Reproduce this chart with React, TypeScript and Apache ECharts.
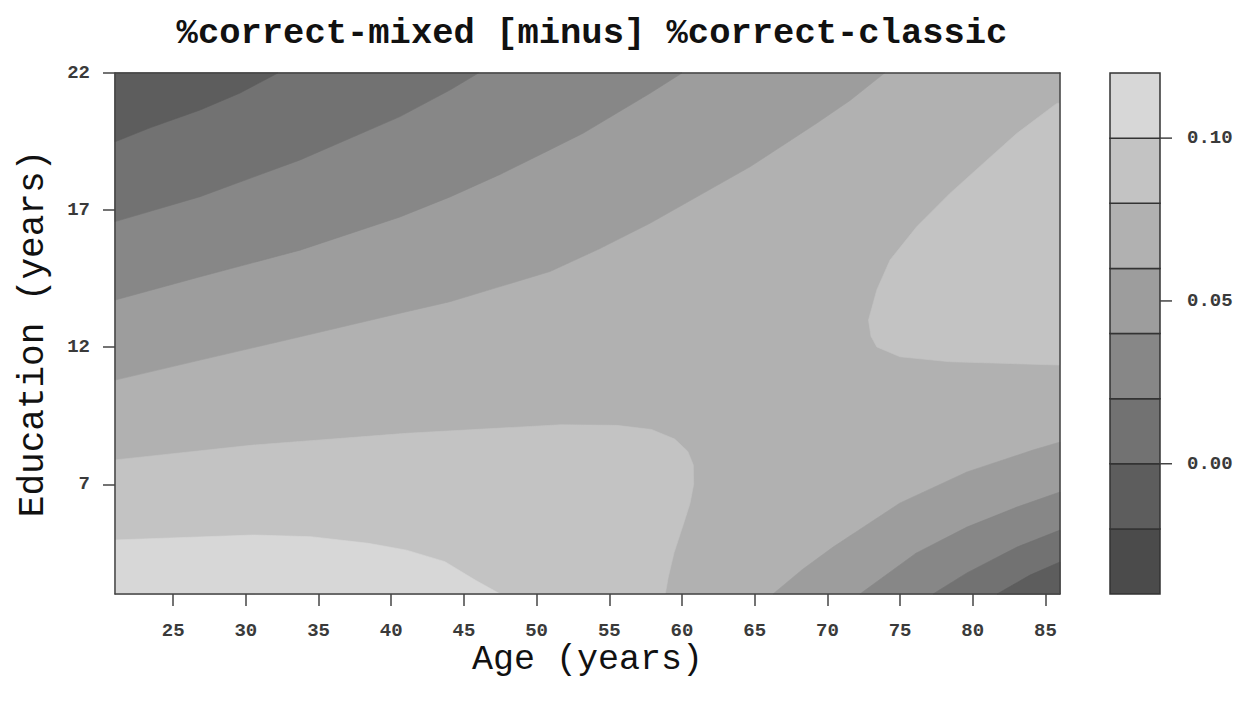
import React, { useEffect, useRef } from "react";
import * as echarts from "echarts";

// ---------- axes ----------
const ageRange = [21, 86];
const eduRange = [3, 22];
const ageTicks = [25, 30, 35, 40, 45, 50, 55, 60, 65, 70, 75, 80, 85];
const eduTicks = [7, 12, 17, 22];

// ---------- colour key ----------
const levels = [-0.04, -0.02, 0, 0.02, 0.04, 0.06, 0.08, 0.1, 0.12];
const levelTicks = [0, 0.05, 0.1];
const bandColors = ["#4b4b4b", "#5d5d5d", "#727272", "#878787", "#9d9d9d", "#b1b1b1", "#c3c3c3", "#d7d7d7"];

// ---------- contour lines: [age, education] ----------
// upper-left (from left edge to top edge)
const contourUL_000 = [[21, 19.49], [23.4, 20.0], [26.85, 20.65], [29.6, 21.27], [32.2, 22]];
const contourUL_020 = [[21, 16.58], [26.85, 17.49], [33.73, 18.83], [40.6, 20.41], [44.04, 21.38], [46.0, 22]];
const contourUL_040 = [[21, 13.72], [26.85, 14.57], [33.73, 15.54], [40.6, 16.75], [44.04, 17.48], [47.48, 18.3], [50.92, 19.2], [53.19, 19.8], [57.8, 21.26], [60.0, 22]];
const contourUL_060 = [[21, 10.8], [26.85, 11.53], [33.73, 12.38], [40.6, 13.24], [44.04, 13.66], [47.48, 14.21], [50.92, 14.76], [54.36, 15.6], [57.8, 16.52], [61.24, 17.55], [64.68, 18.58], [69.27, 20.17], [71.56, 21.0], [73.93, 22]];
// lower-right (from bottom edge to right edge)
const contourLR_060 = [[66.26, 3], [68.3, 3.9], [70.39, 4.71], [75.0, 6.32], [79.6, 7.45], [84.14, 8.25], [86, 8.54]];
const contourLR_040 = [[72.24, 3], [76.1, 4.49], [79.6, 5.44], [83.04, 6.17], [86, 6.72]];
const contourLR_020 = [[77.27, 3], [79.6, 3.77], [83.04, 4.71], [86, 5.33]];
const contourLR_000 = [[81.67, 3], [83.94, 3.69], [86, 4.17]];
// upper-right light lobe (right edge -> tip -> right edge)
const contourUR_080 = [[86, 20.9], [85.77, 20.89], [83.04, 19.8], [80.74, 18.71], [78.43, 17.61], [76.14, 16.39], [74.31, 15.18], [73.4, 14.09], [72.83, 12.99], [73.0, 12.4], [73.4, 12.01], [75.0, 11.65], [78.43, 11.47], [86, 11.35]];
// lower-left light lobes (left edge -> bottom edge)
const contourLL_080 = [[21, 7.89], [30.49, 8.43], [41.04, 8.86], [51.6, 9.17], [55.5, 9.15], [57.9, 9.0], [59.5, 8.65], [60.4, 8.2], [60.78, 7.7], [60.8, 7.0], [60.55, 6.3], [60.1, 5.55], [59.45, 4.5], [59.05, 3.6], [58.85, 3]];
const contourLL_100 = [[21, 4.97], [30.51, 5.15], [34.46, 5.09], [38.42, 4.85], [41.05, 4.6], [43.69, 4.18], [45.8, 3.5], [47.5, 3]];

// regions: contour line + closing plot corners, and the band they enclose
const regions = [
  { pts: [[21, 3], [86, 3], [86, 22], [21, 22]], band: 5 },
  { pts: [...contourUL_060, [21, 22]], band: 4 },
  { pts: [...contourUL_040, [21, 22]], band: 3 },
  { pts: [...contourUL_020, [21, 22]], band: 2 },
  { pts: [...contourUL_000, [21, 22]], band: 1 },
  { pts: [...contourLR_060, [86, 3]], band: 4 },
  { pts: [...contourLR_040, [86, 3]], band: 3 },
  { pts: [...contourLR_020, [86, 3]], band: 2 },
  { pts: [...contourLR_000, [86, 3]], band: 1 },
  { pts: [...contourUR_080], band: 6 },
  { pts: [...contourLL_080, [21, 3]], band: 6 },
  { pts: [...contourLL_100, [21, 3]], band: 7 },
];

const FONT = "'Liberation Mono', 'DejaVu Sans Mono', monospace";
const FRAME = "#444";

export default function App() {
  const ref = useRef<HTMLDivElement>(null);
  useEffect(() => {
    const chart = echarts.init(ref.current as HTMLDivElement, null, { renderer: "svg" });
    const lineStyle = { color: FRAME, width: 1.5 };
    const tickLabel = { fontFamily: FONT, fontSize: 19, fontWeight: "bold", color: "#3a3a3a" };
    const option: any = {
      animation: false,
      backgroundColor: "#ffffff",
      title: {
        text: "%correct-mixed [minus] %correct-classic",
        left: 587,
        top: 10,
        textAlign: "center",
        textStyle: { fontFamily: FONT, fontSize: 35.5, fontWeight: "bold", color: "#111" },
      },
      grid: [
        { left: 115, top: 73, width: 945, height: 521, show: false },
        { left: 1110, top: 73, width: 50, height: 521, show: false },
      ],
      xAxis: [
        {
          gridIndex: 0, type: "value", min: ageRange[0], max: ageRange[1], position: "bottom", z: 10,
          axisLine: { show: true, onZero: false, lineStyle },
          axisTick: { show: true, length: 12, customValues: ageTicks, lineStyle },
          axisLabel: { show: true, customValues: ageTicks, margin: 27, ...tickLabel },
          splitLine: { show: false },
          name: "Age (years)", nameLocation: "middle", nameGap: 48, nameMoveOverlap: false,
          nameTextStyle: { fontFamily: FONT, fontSize: 35, color: "#111" },
        },
        {
          gridIndex: 0, type: "value", min: ageRange[0], max: ageRange[1], position: "top", z: 10,
          axisLine: { show: true, onZero: false, lineStyle },
          axisTick: { show: false }, axisLabel: { show: false }, splitLine: { show: false },
        },
        { gridIndex: 1, type: "value", min: 0, max: 1, show: false },
      ],
      yAxis: [
        {
          gridIndex: 0, type: "value", min: eduRange[0], max: eduRange[1], position: "left", z: 10,
          axisLine: { show: true, onZero: false, lineStyle },
          axisTick: { show: true, length: 12, customValues: eduTicks, lineStyle },
          axisLabel: { show: true, customValues: eduTicks, margin: 25, ...tickLabel },
          splitLine: { show: false },
          name: "Education (years)", nameLocation: "middle", nameGap: 64,
          nameTextStyle: { fontFamily: FONT, fontSize: 36, color: "#111" },
        },
        {
          gridIndex: 0, type: "value", min: eduRange[0], max: eduRange[1], position: "right", z: 10,
          axisLine: { show: true, onZero: false, lineStyle },
          axisTick: { show: false }, axisLabel: { show: false }, splitLine: { show: false },
        },
        {
          gridIndex: 1, type: "value", min: levels[0], max: levels[levels.length - 1], position: "right", z: 10,
          axisLine: { show: false },
          axisTick: { show: false },
          axisLabel: {
            show: true, customValues: levelTicks, margin: 27, ...tickLabel,
            formatter: (v: number) => v.toFixed(2),
          },
          splitLine: { show: false },
        },
      ],
      series: [
        {
          type: "custom",
          xAxisIndex: 0,
          yAxisIndex: 0,
          encode: { x: 0, y: 1 },
          data: regions.map((r, i) => [r.pts[0][0], r.pts[0][1], i]),
          renderItem: (params: any, api: any) => {
            const r = regions[api.value(2) as number];
            const pts = r.pts.map((p) => api.coord(p));
            const c = bandColors[r.band];
            return { type: "polygon", shape: { points: pts }, style: { fill: c, stroke: c, lineWidth: 0.6 } };
          },
          z: 2,
        },
        {
          type: "custom",
          xAxisIndex: 2,
          yAxisIndex: 2,
          encode: { x: 0, y: 1 },
          data: bandColors.map((c, i) => [0, levels[i], 1, levels[i + 1], i]),
          renderItem: (params: any, api: any) => {
            const p0 = api.coord([api.value(0), api.value(1)]);
            const p1 = api.coord([api.value(2), api.value(3)]);
            return {
              type: "rect",
              shape: { x: p0[0], y: p1[1], width: p1[0] - p0[0], height: p0[1] - p1[1] },
              style: { fill: bandColors[api.value(4) as number], stroke: "#333", lineWidth: 1.5 },
            };
          },
          z: 2,
        },
        {
          type: "custom",
          xAxisIndex: 2,
          yAxisIndex: 2,
          encode: { x: 0, y: 1 },
          data: levelTicks.map((v) => [1, v]),
          renderItem: (params: any, api: any) => {
            const p = api.coord([api.value(0), api.value(1)]);
            return {
              type: "line",
              shape: { x1: p[0], y1: p[1], x2: p[0] + 12, y2: p[1] },
              style: { stroke: FRAME, lineWidth: 1.5 },
            };
          },
          z: 3,
        },
      ],
    };
    chart.setOption(option);
    return () => chart.dispose();
  }, []);
  return (
    <div
      ref={ref}
      style={{ position: "absolute", left: 0, top: 0, width: 1247, height: 704, background: "#fff" }}
    />
  );
}
